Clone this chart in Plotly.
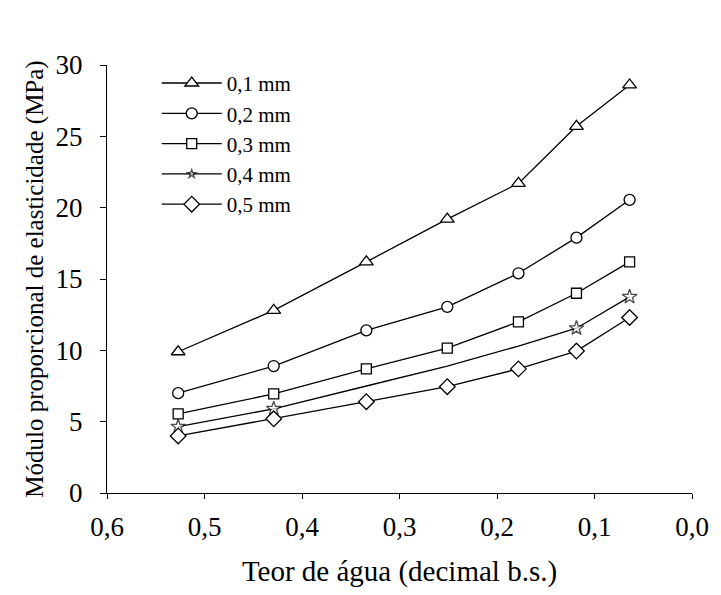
import plotly.graph_objects as go

teor = [0.527, 0.429, 0.334, 0.251, 0.178, 0.1185, 0.064]
s01 = [9.9, 12.8, 16.2, 19.2, 21.7, 25.7, 28.6]
s02 = [7.0, 8.9, 11.4, 13.05, 15.4, 17.9, 20.55]
s03 = [5.55, 6.95, 8.7, 10.15, 12.0, 14.0, 16.2]
s04 = [4.65, 5.9, 7.5, 8.9, 10.3, 11.55, 13.75]
s05 = [4.0, 5.2, 6.4, 7.45, 8.7, 9.95, 12.3]
names = ["0,1 mm", "0,2 mm", "0,3 mm", "0,4 mm", "0,5 mm"]
xticks = [0.6, 0.5, 0.4, 0.3, 0.2, 0.1, 0.0]
xticklabels = ["0,6", "0,5", "0,4", "0,3", "0,2", "0,1", "0,0"]
yticks = [0, 5, 10, 15, 20, 25, 30]

series = [s01, s02, s03, s04, s05]
symbols = ["triangle-up", "circle", "square", "star", "diamond"]
sizes = [12, 11, 10, 11, 12]

fig = go.Figure()
for name, ys, sym, sz in zip(names, series, symbols, sizes):
    msize = sz
    if name == "0,4 mm":
        msize = [sz, sz, 0, 0, 0, sz, sz]
    fig.add_trace(go.Scatter(
        x=teor, y=ys, name=name, mode="lines+markers",
        line=dict(color="black", width=1.3),
        marker=dict(symbol=sym, size=msize, color="white",
                    line=dict(color="black", width=1.3)),
    ))

font = "Liberation Serif, Times New Roman, serif"
fig.update_layout(
    width=713, height=587,
    margin=dict(l=99, r=20, t=57, b=102),
    paper_bgcolor="white", plot_bgcolor="white",
    font=dict(family=font, color="black", size=27),
    legend=dict(x=0.085, y=1.005, xanchor="left", yanchor="top",
                font=dict(size=21, family=font), bgcolor="rgba(0,0,0,0)",
                itemwidth=60, tracegroupgap=0),
    xaxis=dict(range=[0.6, 0.0], tickvals=xticks, ticktext=xticklabels,
               showgrid=False, zeroline=False, showline=True, linecolor="black",
               linewidth=1, ticks="outside", ticklen=5, tickcolor="black",
               tickfont=dict(size=27), ticklabelstandoff=5,
               title=dict(text="Teor de água (decimal b.s.)", font=dict(size=29), standoff=19)),
    yaxis=dict(range=[0, 30], tickvals=yticks, showgrid=False, zeroline=False,
               showline=True, linecolor="black", linewidth=1, ticks="outside",
               ticklen=6, tickcolor="black", tickfont=dict(size=27), ticklabelstandoff=12,
               title=dict(text="Módulo proporcional de elasticidade (MPa)", font=dict(size=25), standoff=4)),
)
fig.write_html("out.html")
